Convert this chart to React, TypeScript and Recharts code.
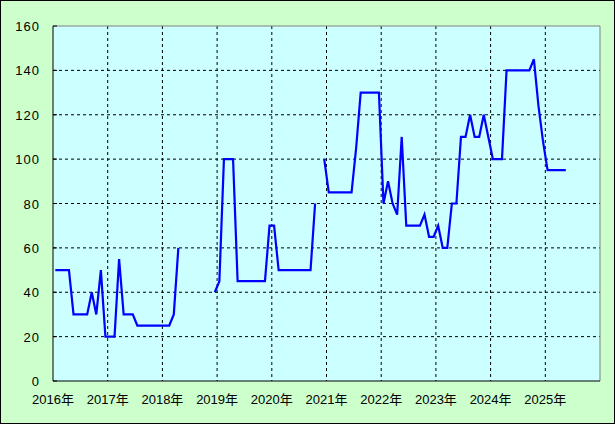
import React from "react";
import { LineChart, Line, XAxis, YAxis, CartesianGrid, ReferenceLine } from "recharts";

// Monthly values from Jan 2016 (index 0) to May 2025; null = no data
const monthlyValues: (number | null)[] = [
  // 2016
  50, 50, 50, 50, 30, 30, 30, 30, 40, 30, 50, 20,
  // 2017
  20, 20, 55, 30, 30, 30, 25, 25, 25, 25, 25, 25,
  // 2018
  25, 25, 30, 60, null, null, null, null, null, null, null, 40,
  // 2019
  45, 100, 100, 100, 45, 45, 45, 45, 45, 45, 45, 70,
  // 2020
  70, 50, 50, 50, 50, 50, 50, 50, 50, 80, null, 100,
  // 2021
  85, 85, 85, 85, 85, 85, 105, 130, 130, 130, 130, 130,
  // 2022
  80, 90, 80, 75, 110, 70, 70, 70, 70, 75, 65, 65,
  // 2023
  70, 60, 60, 80, 80, 110, 110, 120, 110, 110, 120, 110,
  // 2024
  100, 100, 100, 140, 140, 140, 140, 140, 140, 145, 124, 108,
  // 2025
  95, 95, 95, 95, 95,
];

const yearLabels = ["2016年", "2017年", "2018年", "2019年", "2020年", "2021年", "2022年", "2023年", "2024年", "2025年"];
const yTicks = [0, 20, 40, 60, 80, 100, 120, 140, 160];

const data = monthlyValues.map((v, i) => ({ t: i + 0.5, price: v }));
const xTicks = yearLabels.map((_, i) => i * 12);
const gridX = xTicks.filter((t) => t > 0);
const gridY = yTicks.filter((t) => t > 0 && t < 160);

const FONT = "'Liberation Sans', 'Noto Sans CJK JP', sans-serif";

const XTick = (props: any) => {
  const { x, y, payload } = props;
  const idx = Math.round(payload.value / 12);
  return (
    <text x={x} y={y + 23} textAnchor="middle" fontSize={13} fontFamily={FONT} fill="#000">
      {yearLabels[idx]}
    </text>
  );
};

const YTick = (props: any) => {
  const { x, y, payload } = props;
  return (
    <g>
      <line x1={x} x2={x + 4} y1={y} y2={y} stroke="#000" strokeWidth={1} />
      <text x={x - 13} y={y + 5} textAnchor="end" fontSize={13} letterSpacing={1} fontFamily={FONT} fill="#000">
        {payload.value}
      </text>
    </g>
  );
};

export default function App() {
  return (
    <div style={{ position: "absolute", left: 0, top: 0, width: 615, height: 424, background: "#CCFFCC" }}>
      <LineChart width={615} height={424} data={data} margin={{ top: 26, right: 15, left: 0, bottom: 0 }}>
        <CartesianGrid
          fill="#CCFFFF"
          stroke="#000"
          strokeDasharray="3 3"
          horizontalValues={gridY}
          verticalValues={gridX}
        />
        <XAxis
          dataKey="t"
          type="number"
          domain={[0, 120]}
          ticks={xTicks}
          interval={0}
          height={43}
          tickSize={0}
          tickMargin={0}
          tickLine={false}
          axisLine={{ stroke: "#000", strokeWidth: 1 }}
          tick={<XTick />}
          allowDataOverflow
        />
        <YAxis
          type="number"
          domain={[0, 160]}
          ticks={yTicks}
          interval={0}
          width={53}
          tickSize={0}
          tickMargin={0}
          tickLine={false}
          axisLine={{ stroke: "#000", strokeWidth: 1 }}
          tick={<YTick />}
        />
        <ReferenceLine y={160} stroke="#808080" strokeWidth={1} ifOverflow="visible" />
        <ReferenceLine x={120} stroke="#808080" strokeWidth={1} ifOverflow="visible" />
        <Line
          type="linear"
          dataKey="price"
          stroke="#0000FF"
          strokeWidth={2.2}
          dot={false}
          activeDot={false}
          connectNulls={false}
          isAnimationActive={false}
        />
      </LineChart>
      <div
        style={{
          position: "absolute",
          left: 0,
          top: 0,
          width: 615,
          height: 424,
          border: "1px solid #000",
          boxSizing: "border-box",
          pointerEvents: "none",
        }}
      />
    </div>
  );
}
